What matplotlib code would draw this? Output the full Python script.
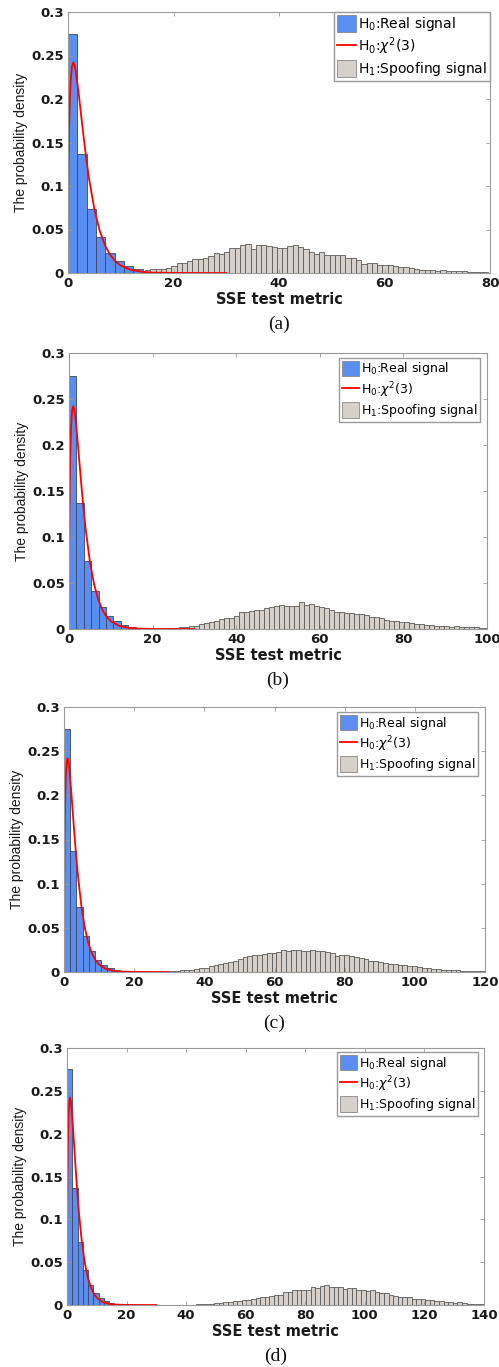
import numpy as np
import matplotlib
matplotlib.use("Agg")
import matplotlib.pyplot as plt
from matplotlib.patches import Patch
from matplotlib.lines import Line2D

# H0 histogram (same in every panel): bin width and densities
h0_width = 1.77
h0_density = [0.275, 0.137, 0.074, 0.041, 0.0235, 0.0138, 0.0082, 0.0046,
              0.0026, 0.0015, 0.0008, 0.0005]

# chi-square(3) reference curve, sampled points
chi_x = [0, 0.05, 0.1, 0.2, 0.3, 0.5, 0.75, 1.0, 1.25, 1.5, 2.0, 2.5, 3.0,
         3.5, 4.0, 5.0, 6.0, 7.0, 8.0, 9.0, 10.0, 12.0, 14.0, 16.0, 20.0, 25.0, 30.0]
chi_y = [0, 0.087, 0.120, 0.161, 0.188, 0.220, 0.2375, 0.242, 0.2388, 0.2308,
         0.2076, 0.1807, 0.1542, 0.1297, 0.108, 0.0732, 0.0487, 0.0319, 0.0207,
         0.0133, 0.0085, 0.0034, 0.0014, 0.0005, 0.0001, 0.0, 0.0]

# H1 histograms: first bin edge, bin width, densities
h1_a_start, h1_a_width = 14.6, 1.0
h1_a = [0.0031, 0.0046, 0.0046, 0.0046, 0.0061, 0.008, 0.011, 0.0119, 0.0142,
        0.0165, 0.016, 0.0176, 0.0195, 0.023, 0.022, 0.0245, 0.029, 0.029,
        0.0318, 0.0333, 0.028, 0.0326, 0.0326, 0.0314, 0.0303, 0.029, 0.029,
        0.0314, 0.0318, 0.0303, 0.028, 0.024, 0.0215,
        0.0245, 0.021, 0.021, 0.021, 0.021, 0.0176, 0.0169, 0.0149, 0.0107,
        0.0119, 0.0119, 0.0096, 0.0096, 0.0096, 0.008, 0.0069, 0.0069, 0.0054,
        0.0042, 0.0034, 0.0034, 0.0031, 0.0023, 0.0034, 0.0023, 0.0023, 0.0023,
        0.0023, 0.0011, 0.0011, 0.0011, 0.0011]

h1_b_start, h1_b_width = 22.6, 1.2
h1_b = [0.0007, 0.001, 0.0015, 0.0018, 0.002, 0.003, 0.0036, 0.0055, 0.0062,
        0.0077, 0.0088, 0.011, 0.0117, 0.0124, 0.0142, 0.018, 0.019, 0.0197,
        0.0208, 0.0208, 0.0223, 0.0234, 0.0248, 0.026, 0.0245, 0.0248, 0.0248,
        0.029, 0.026, 0.027, 0.0248, 0.0234, 0.0223, 0.0208, 0.019, 0.018,
        0.017, 0.0172, 0.0165, 0.016, 0.015, 0.0128, 0.0128, 0.012, 0.0098,
        0.009, 0.009, 0.0077, 0.0077, 0.007, 0.0055, 0.0052, 0.004, 0.004,
        0.0036, 0.0036, 0.003, 0.0026, 0.0033, 0.0022, 0.0026, 0.0018, 0.0018,
        0.0015, 0.0011]

h1_c_start, h1_c_width = 30.2, 1.38
h1_c = [0.001, 0.0015, 0.002, 0.0024, 0.0028, 0.0034, 0.004, 0.005, 0.0064,
        0.008, 0.0094, 0.010, 0.0117, 0.013, 0.015, 0.017, 0.0184, 0.0188,
        0.0195, 0.0207, 0.0214, 0.0218, 0.0229, 0.0244, 0.024, 0.025, 0.025,
        0.0233, 0.0237, 0.0244, 0.0237, 0.024, 0.0229, 0.0214, 0.0184, 0.0195,
        0.019, 0.0178, 0.0165, 0.0158, 0.0147, 0.0124, 0.0124, 0.0113, 0.010,
        0.0086, 0.0094, 0.0075, 0.0075, 0.0068, 0.0064, 0.0056, 0.005, 0.0042,
        0.0034, 0.0038, 0.0026, 0.0023, 0.0023, 0.0019, 0.0015, 0.0015, 0.0011,
        0.0011, 0.0008]

h1_d_start, h1_d_width = 40.2, 1.54
h1_d = [0.0003, 0.0005, 0.0006, 0.0008, 0.0012, 0.0016, 0.002, 0.0027, 0.003,
        0.004, 0.0043, 0.0047, 0.0055, 0.0062, 0.0074, 0.0082, 0.0094, 0.0098,
        0.011, 0.0117, 0.012, 0.015, 0.015, 0.017, 0.018, 0.018, 0.0172,
        0.0207, 0.020, 0.022, 0.023, 0.021, 0.0207, 0.0207, 0.019, 0.020,
        0.020, 0.0176, 0.018, 0.0164, 0.017, 0.015, 0.0145, 0.0137, 0.012,
        0.011, 0.0098, 0.0098, 0.009, 0.0074, 0.007, 0.0066, 0.0055, 0.0055,
        0.0047, 0.0043, 0.004, 0.0035, 0.0027, 0.003, 0.002, 0.0016, 0.0016,
        0.0012, 0.0008]

x_max = [80, 100, 120, 140]
captions = ["(a)", "(b)", "(c)", "(d)"]
y_ticks = [0, 0.05, 0.1, 0.15, 0.2, 0.25, 0.3]
y_ticklabels = ["0", "0.05", "0.1", "0.15", "0.2", "0.25", "0.3"]

blue = "#5a8ef0"
grey = "#d5d0c9"
axis_grey = "#9a9a9a"

W, H = 499, 1367
fig = plt.figure(figsize=(W / 100, H / 100), dpi=100)

# axes boxes in pixels: left, right, top, bottom
boxes = [(68, 490, 12, 273), (69, 487, 353, 629),
         (64, 485, 707, 972), (67, 484, 1048, 1305)]
legend_anchor = [(1.0, 1.0), (0.983, 0.982), (0.983, 0.981), (0.986, 0.984)]
legend_size = [10, 9, 9, 9]

h1_sets = [(h1_a_start, h1_a_width, h1_a), (h1_b_start, h1_b_width, h1_b),
           (h1_c_start, h1_c_width, h1_c), (h1_d_start, h1_d_width, h1_d)]

for i in range(4):
    l, r, t, b = boxes[i]
    ax = fig.add_axes([l / W, 1 - b / H, (r - l) / W, (b - t) / H])

    h0_left = np.arange(len(h0_density)) * h0_width
    ax.bar(h0_left, h0_density, width=h0_width, align="edge",
           color=blue, edgecolor="#3b4660", linewidth=0.6)

    start, width, dens = h1_sets[i]
    h1_left = start + np.arange(len(dens)) * width
    ax.bar(h1_left, dens, width=width, align="edge",
           color=grey, edgecolor="#5a5a5a", linewidth=0.6)

    ax.plot(chi_x, chi_y, color="red", lw=1.3)

    ax.set_xlim(0, x_max[i])
    ax.set_ylim(0, 0.3)
    ax.set_xticks(range(0, x_max[i] + 1, 20))
    ax.set_yticks(y_ticks)
    ax.set_yticklabels(y_ticklabels)

    for s in ax.spines.values():
        s.set_color(axis_grey)
        s.set_linewidth(0.8)
    ax.tick_params(direction="in", top=True, right=True, length=3,
                   width=0.6, color=axis_grey, labelcolor="#1a1a1a",
                   labelsize=9.5, pad=3)
    for lab in ax.get_xticklabels() + ax.get_yticklabels():
        lab.set_fontweight("bold")

    ax.set_xlabel("SSE test metric", fontsize=10.5, fontweight="bold",
                  color="#1a1a1a", labelpad=1)
    ax.set_ylabel("The probability density", fontsize=10,
                  family="Liberation Sans", color="#1a1a1a", labelpad=2)

    handles = [Patch(facecolor=blue, edgecolor="#888888", lw=0.6),
               Line2D([], [], color="red", lw=1.3),
               Patch(facecolor=grey, edgecolor="#888888", lw=0.6)]
    labels = ["H$_0$:Real signal", "H$_0$:$\\chi^2$(3)", "H$_1$:Spoofing signal"]
    ax.legend(handles, labels, loc="upper right",
              bbox_to_anchor=legend_anchor[i], fontsize=legend_size[i],
              frameon=True, fancybox=False, edgecolor="#9a9a9a",
              framealpha=1, borderpad=0.2, borderaxespad=0,
              handlelength=1.4, handleheight=1.5, handletextpad=0.15,
              labelspacing=0.2)

    cap_y = 1 - (b + 51) / H
    fig.text((l + r) / 2 / W, cap_y, captions[i], ha="center", va="center",
             family="Liberation Serif", fontsize=14, color="#111111")

fig.savefig("out.png", dpi=100)
